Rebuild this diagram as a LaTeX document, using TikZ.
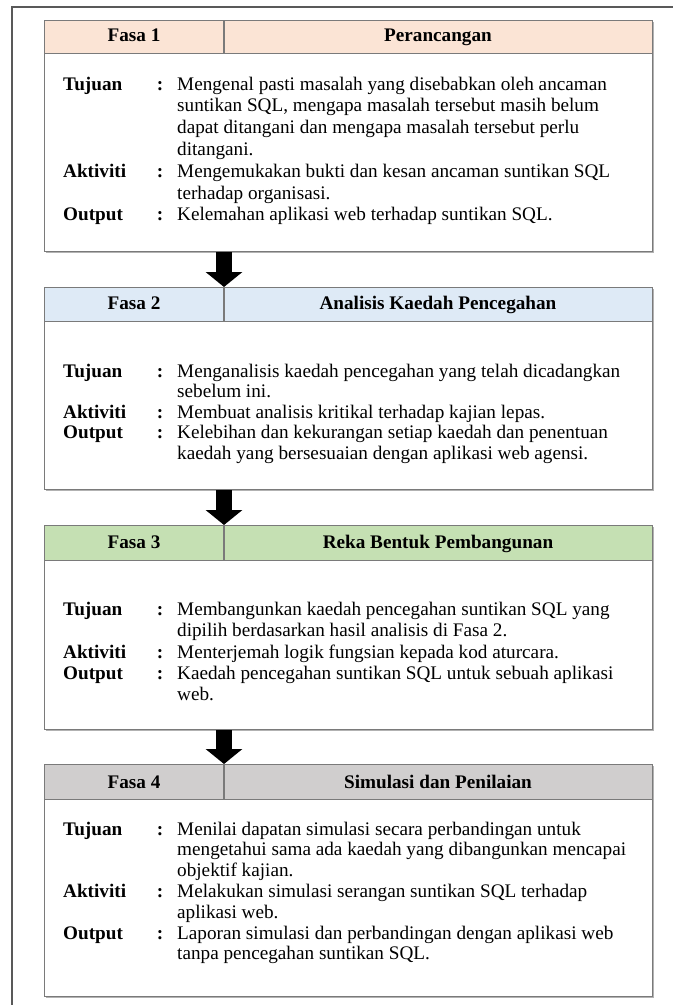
\documentclass[tikz,border=0pt]{standalone}
\usepackage{fontspec}
\setmainfont{Liberation Serif}
\usetikzlibrary{arrows.meta,shadows}
\definecolor{hpink}{HTML}{FBE4D5}
\definecolor{hblue}{HTML}{DEEAF6}
\definecolor{hgreen}{HTML}{C5E0B3}
\definecolor{hgray}{HTML}{D0CECE}
\definecolor{edge}{HTML}{7A7A7A}
\newcommand\fs{\fontsize{19.2}{20.8}\selectfont}
\tikzset{
  frameline/.style={draw=black!65, line width=1.1pt},
  bodybox/.style={draw=edge, line width=1.4pt, fill=white, minimum width=608pt, anchor=north west, inner sep=0pt,
    drop shadow={shadow xshift=1.5pt, shadow yshift=-1.5pt, fill=black!30, opacity=1}},
  hdrbox/.style={draw=edge, line width=1.4pt, minimum width=608pt, minimum height=34pt, anchor=north west, inner sep=0pt},
  divline/.style={draw=edge, line width=1.4pt},
  htxt/.style={anchor=mid, inner sep=0pt, font=\fs\bfseries},
  lbl/.style={anchor=mid west, inner sep=0pt, font=\fs\bfseries},
  colon/.style={anchor=mid, inner sep=0pt, font=\fs\bfseries},
  txt/.style={anchor=mid west, inner sep=0pt, font=\fs},
  flowarrow/.style={draw=black, line width=16pt, -{Triangle[width=36pt,length=15pt]}}
}
\begin{document}
\begin{tikzpicture}[x=1pt,y=-1pt]
\useasboundingbox (0,0) rectangle (673,1005);
\coordinate (fa) at (12,1005);
\coordinate (fb) at (12,7);
\coordinate (fc) at (673,7);
\draw[frameline] (fa) -- (fb) -- (fc);

% ---------- Fasa 1 ----------
\node[bodybox, minimum height=231pt] (b1) at (44,20) {};
\node[hdrbox, fill=hpink, minimum height=33pt] (h1) at (44,20) {};
\coordinate (d1t) at (224,20);
\coordinate (d1b) at (224,53);
\draw[divline] (d1t) -- (d1b);
\node[htxt] (h1a) at (134,39) {Fasa 1};
\node[htxt] (h1b) at (438,39) {Perancangan};
\node[lbl] (l1a) at (63,87.7) {Tujuan};
\node[colon] (c1a) at (160,87.7) {:};
\node[txt] (t1a) at (177,87.7) {Mengenal pasti masalah yang disebabkan oleh ancaman};
\node[txt] (t1b) at (177,109.5) {suntikan SQL, mengapa masalah tersebut masih belum};
\node[txt] (t1c) at (177,131.3) {dapat ditangani dan mengapa masalah tersebut perlu};
\node[txt] (t1d) at (177,153.1) {ditangani.};
\node[lbl] (l1b) at (63,174.9) {Aktiviti};
\node[colon] (c1b) at (160,174.9) {:};
\node[txt] (t1e) at (177,174.9) {Mengemukakan bukti dan kesan ancaman suntikan SQL};
\node[txt] (t1f) at (177,196.7) {terhadap organisasi.};
\node[lbl] (l1c) at (63,218.5) {Output};
\node[colon] (c1c) at (160,218.5) {:};
\node[txt] (t1g) at (177,218.5) {Kelemahan aplikasi web terhadap suntikan SQL.};

% ---------- Fasa 2 ----------
\node[bodybox, minimum height=202pt] (b2) at (44,287) {};
\node[hdrbox, fill=hblue] (h2) at (44,287) {};
\coordinate (d2t) at (224,287);
\coordinate (d2b) at (224,321);
\draw[divline] (d2t) -- (d2b);
\node[htxt] (h2a) at (134,307.5) {Fasa 2};
\node[htxt] (h2b) at (438,307.5) {Analisis Kaedah Pencegahan};
\node[lbl] (l2a) at (63,375) {Tujuan};
\node[colon] (c2a) at (160,375) {:};
\node[txt] (t2a) at (177,375) {Menganalisis kaedah pencegahan yang telah dicadangkan};
\node[txt] (t2b) at (177,395.5) {sebelum ini.};
\node[lbl] (l2b) at (63,416) {Aktiviti};
\node[colon] (c2b) at (160,416) {:};
\node[txt] (t2c) at (177,416) {Membuat analisis kritikal terhadap kajian lepas.};
\node[lbl] (l2c) at (63,436.5) {Output};
\node[colon] (c2c) at (160,436.5) {:};
\node[txt] (t2d) at (177,436.5) {Kelebihan dan kekurangan setiap kaedah dan penentuan};
\node[txt] (t2e) at (177,457) {kaedah yang bersesuaian dengan aplikasi web agensi.};

% ---------- Fasa 3 ----------
\node[bodybox, minimum height=204pt] (b3) at (44,525) {};
\node[hdrbox, fill=hgreen, minimum height=35pt] (h3) at (44,525) {};
\coordinate (d3t) at (224,525);
\coordinate (d3b) at (224,560);
\draw[divline] (d3t) -- (d3b);
\node[htxt] (h3a) at (134,546) {Fasa 3};
\node[htxt] (h3b) at (438,546) {Reka Bentuk Pembangunan};
\node[lbl] (l3a) at (63,613.3) {Tujuan};
\node[colon] (c3a) at (160,613.3) {:};
\node[txt] (t3a) at (177,613.3) {Membangunkan kaedah pencegahan suntikan SQL yang};
\node[txt] (t3b) at (177,634.5) {dipilih berdasarkan hasil analisis di Fasa 2.};
\node[lbl] (l3b) at (63,655.7) {Aktiviti};
\node[colon] (c3b) at (160,655.7) {:};
\node[txt] (t3c) at (177,655.7) {Menterjemah logik fungsian kepada kod aturcara.};
\node[lbl] (l3c) at (63,676.9) {Output};
\node[colon] (c3c) at (160,676.9) {:};
\node[txt] (t3d) at (177,676.9) {Kaedah pencegahan suntikan SQL untuk sebuah aplikasi};
\node[txt] (t3e) at (177,698.1) {web.};

% ---------- Fasa 4 ----------
\node[bodybox, minimum height=232pt] (b4) at (44,764) {};
\node[hdrbox, fill=hgray, minimum height=35pt] (h4) at (44,764) {};
\coordinate (d4t) at (224,764);
\coordinate (d4b) at (224,799);
\draw[divline] (d4t) -- (d4b);
\node[htxt] (h4a) at (134,786) {Fasa 4};
\node[htxt] (h4b) at (438,786) {Simulasi dan Penilaian};
\node[lbl] (l4a) at (63,832.7) {Tujuan};
\node[colon] (c4a) at (160,832.7) {:};
\node[txt] (t4a) at (177,832.7) {Menilai dapatan simulasi secara perbandingan untuk};
\node[txt] (t4b) at (177,853.5) {mengetahui sama ada kaedah yang dibangunkan mencapai};
\node[txt] (t4c) at (177,874.3) {objektif kajian.};
\node[lbl] (l4b) at (63,895.1) {Aktiviti};
\node[colon] (c4b) at (160,895.1) {:};
\node[txt] (t4d) at (177,895.1) {Melakukan simulasi serangan suntikan SQL terhadap};
\node[txt] (t4e) at (177,915.9) {aplikasi web.};
\node[lbl] (l4c) at (63,936.7) {Output};
\node[colon] (c4c) at (160,936.7) {:};
\node[txt] (t4f) at (177,936.7) {Laporan simulasi dan perbandingan dengan aplikasi web};
\node[txt] (t4g) at (177,957.5) {tanpa pencegahan suntikan SQL.};

% ---------- arrows ----------
\draw[flowarrow] (b1.south -| d1b) -- (b2.north -| d2t);
\draw[flowarrow] (b2.south -| d2b) -- (b3.north -| d3t);
\draw[flowarrow] (b3.south -| d3b) -- (b4.north -| d4t);
\end{tikzpicture}
\end{document}
